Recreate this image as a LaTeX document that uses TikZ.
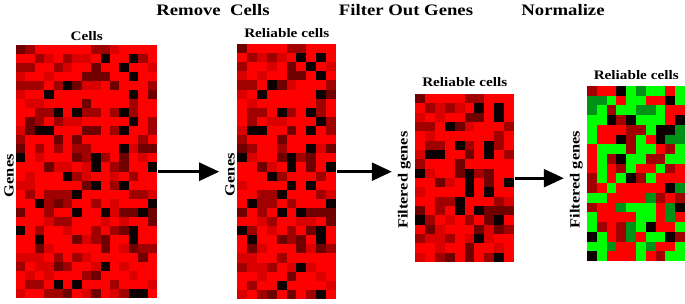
\documentclass[tikz,border=0pt]{standalone}
\usepackage{fontspec}
\setmainfont[FakeStretch=1.17]{Liberation Serif}
\usetikzlibrary{arrows.meta,positioning}

\definecolor{hmRed}{RGB}{255,0,0}
\definecolor{hmRedB}{RGB}{218,0,0}
\definecolor{hmDark}{RGB}{160,0,0}
\definecolor{hmDarker}{RGB}{112,0,0}
\definecolor{hmBlack}{RGB}{12,0,0}
\definecolor{hmGreen}{RGB}{0,255,0}
\definecolor{hmGreenD}{RGB}{0,145,25}

% colour picks, #1 in 0..99
\def\palRed#1{%
  \ifnum#1<50 \def\cellcol{hmRed}\else
  \ifnum#1<64 \def\cellcol{hmRedB}\else
  \ifnum#1<80 \def\cellcol{hmDark}\else
  \ifnum#1<90 \def\cellcol{hmDarker}\else
  \def\cellcol{hmBlack}\fi\fi\fi\fi}
\def\palNorm#1{%
  \ifnum#1<34 \def\cellcol{hmGreen}\else
  \ifnum#1<45 \def\cellcol{hmGreenD}\else
  \ifnum#1<77 \def\cellcol{hmRed}\else
  \ifnum#1<88 \def\cellcol{hmDark}\else
  \def\cellcol{hmBlack}\fi\fi\fi\fi}

% x0, y0, cell w, cell h, columns, rows, palette, value set
% a cell's value is drawn once per set and reused by later maps
\newcommand{\heatmap}[8]{%
  \foreach \hc [count=\hi] in #5{
    \foreach \hr [count=\hj] in #6{
      \ifcsname hv#8-\hc-\hr\endcsname\else
        \pgfmathrandominteger{\hv}{0}{99}%
        \expandafter\xdef\csname hv#8-\hc-\hr\endcsname{\hv}%
      \fi
      \edef\hv{\csname hv#8-\hc-\hr\endcsname}%
      \csname pal#7\endcsname{\hv}
      \fill[\cellcol] ({#1+(\hi-1)*#3},{#2+(\hj-1)*#4}) rectangle ++({#3+0.3},{#4+0.3});
    }}}

\begin{document}
\begin{tikzpicture}[x=1pt, y=-1pt]

 \tikzset{
   mat/.style={rectangle, inner sep=0pt, anchor=north west},
   head/.style={font=\bfseries\fontsize{16}{18}\selectfont, anchor=base},
   top/.style={font=\bfseries\fontsize{13}{15}\selectfont, inner sep=0pt},
   side/.style={font=\bfseries\fontsize{14}{16}\selectfont, inner sep=0pt, rotate=90, anchor=south},
   arrow/.style={-{Triangle[length=20pt, width=18pt]}, line width=2.6pt, shorten <=1pt, shorten >=6pt}
 }
 \useasboundingbox (0,0) rectangle (685,303);
 \pgfmathsetseed{23}

 % Kept columns and rows
 \def\allcols{1,...,15}
 \def\allrows{1,...,28}
 \def\keptcols{1,3,4,6,7,9,10,12,13,15}
 \def\keptrows{1,2,4,5,7,8,10,11,13,14,16,17,19,21,23,25,26,28}

 % Heat maps
 \heatmap{16}{45}{9.4}{9.036}{\allcols}{\allrows}{Red}{raw}
 \heatmap{237}{44}{9.9}{9.107}{\keptcols}{\allrows}{Red}{raw}
 \heatmap{415}{94}{9.9}{9.333}{\keptcols}{\keptrows}{Red}{raw}
 \heatmap{587}{86}{9.8}{9.72}{\keptcols}{\keptrows}{Norm}{norm}

 % Matrix frames
 \node[mat, minimum width=141pt, minimum height=253pt] (mA) at (16,45) {};
 \node[mat, minimum width=99pt, minimum height=255pt] (mB) at (237,44) {};
 \node[mat, minimum width=99pt, minimum height=168pt] (mC) at (415,94) {};
 \node[mat, minimum width=98pt, minimum height=175pt] (mD) at (587,86) {};

 % Column labels
 \node[top, above=4pt of mA] (cellsA) {Cells};
 \node[top, above=6pt of mB] (cellsB) {Reliable cells};
 \node[top, above=7pt of mC] (cellsC) {Reliable cells};
 \node[top, above=6pt of mD] (cellsD) {Reliable cells};

 % Row labels
 \node[side] (genesA) at ([xshift=-2pt, yshift=-4pt]mA.west) {Genes};
 \node[side] (genesB) at ([xshift=-2pt, yshift=-3pt]mB.west) {Genes};
 \node[side] (genesC) at ([xshift=-4pt, yshift=-2pt]mC.west) {Filtered genes};
 \node[side] (genesD) at ([xshift=-4pt, yshift=-6pt]mD.west) {Filtered genes};

 % Steps
 \node[head] (remove) at (213,15) {Remove\ \ Cells};
 \node[head] (filter) at (406,15) {Filter Out Genes};
 \node[head] (normal) at (563,15) {Normalize};

 % Arrows
 \draw[arrow] (mA.east) -- (mA.east -| genesB.north);
 \draw[arrow] (mB.east) -- (mB.east -| genesC.north);
 \draw[arrow] (mC.east) -- (mC.east -| genesD.north);

\end{tikzpicture}
\end{document}
